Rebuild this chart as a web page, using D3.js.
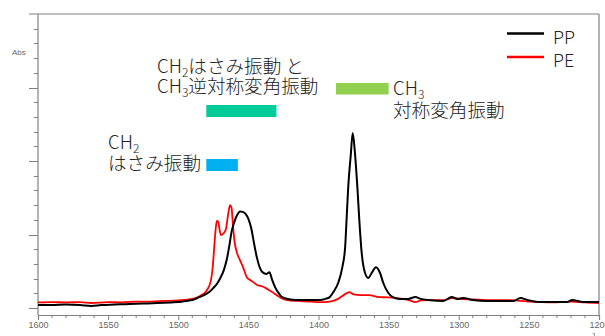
<!DOCTYPE html>
<html>
<head>
<meta charset="utf-8">
<script src="https://cdn.jsdelivr.net/npm/d3@7"></script>
<style>
  html, body { margin: 0; padding: 0; background: #fff; }
  svg { display: block; }
</style>
</head>
<body>
<svg id="chart" width="605" height="336"></svg>
<script>
// IR spectra of PP and PE, 1600–1200 cm-1 (absorbance, arbitrary scale)
const ppWavenumber = [1600,1590,1580,1570,1562,1555,1545,1535,1525,1515,1505,1500,1495,1490,1485,1480,1477,1475,1472,1470,1467.5,1465.5,1463.5,1462,1460,1458,1456,1454,1452,1450,1448,1446,1444,1442,1440,1437,1435,1433,1431,1428,1426,1420,1413,1405,1399,1395,1392,1389.4,1386,1383,1381,1380,1378.8,1377,1375.6,1374,1372.3,1370.9,1369.2,1366.8,1364.5,1362.1,1359,1356.1,1353.8,1350.2,1347,1342,1336,1331,1327,1320,1311,1305,1301,1297,1290,1280,1271,1261,1256,1251,1242,1230,1223,1219,1215,1211,1200];
const ppAbs = [0.010,0.010,0.012,0.010,0.007,0.010,0.012,0.014,0.015,0.017,0.019,0.020,0.024,0.027,0.037,0.048,0.058,0.068,0.085,0.102,0.129,0.163,0.214,0.259,0.293,0.316,0.328,0.327,0.320,0.303,0.272,0.221,0.173,0.139,0.122,0.116,0.122,0.095,0.071,0.048,0.037,0.029,0.027,0.027,0.027,0.031,0.037,0.054,0.085,0.139,0.207,0.299,0.412,0.520,0.595,0.527,0.412,0.299,0.187,0.119,0.102,0.119,0.139,0.119,0.085,0.051,0.037,0.031,0.031,0.037,0.031,0.026,0.024,0.037,0.031,0.034,0.027,0.024,0.024,0.024,0.034,0.027,0.020,0.020,0.020,0.027,0.024,0.020,0.020];

const peWavenumber = [1600,1590,1580,1570,1562,1550,1540,1530,1520,1510,1500,1490,1484.5,1480,1477,1475.5,1474.5,1473.5,1472.5,1471.5,1470.5,1469.5,1467.5,1466,1464.5,1463.1,1462,1461,1460,1458.3,1456,1453.8,1451.2,1448.8,1446.5,1443.8,1440,1437,1433,1429.7,1425.3,1422,1415,1405,1400,1392,1386,1382,1378,1375,1370,1364,1357,1350,1340,1335,1331,1327,1320,1310,1305,1300,1290,1280,1270,1260,1256,1250,1240,1230,1220,1210,1200];
const peAbs = [0.019,0.020,0.019,0.020,0.017,0.020,0.019,0.022,0.022,0.024,0.026,0.031,0.041,0.058,0.088,0.136,0.197,0.259,0.296,0.293,0.265,0.248,0.255,0.269,0.316,0.350,0.340,0.282,0.231,0.190,0.163,0.139,0.105,0.095,0.088,0.078,0.073,0.066,0.054,0.043,0.031,0.027,0.024,0.022,0.020,0.022,0.031,0.044,0.054,0.046,0.044,0.044,0.037,0.036,0.031,0.026,0.020,0.026,0.027,0.027,0.034,0.031,0.029,0.027,0.027,0.026,0.024,0.022,0.020,0.019,0.022,0.019,0.017];

// Absorption band markers (wavenumber ranges)
const bandNames = ["CH2 scissoring", "CH2 scissoring + CH3 asym. deformation", "CH3 sym. deformation"];
const bandStart = [1480, 1480, 1387.5];
const bandEnd = [1457.5, 1430, 1350];
const bandColors = ["#00b0f0", "#00cc99", "#92d050"];

const xTickValues = [1600, 1550, 1500, 1450, 1400, 1350, 1300, 1250, 1200];
const seriesNames = ["PP", "PE"];
const seriesColors = ["#000000", "#ff0000"];

const svg = d3.select("#chart");
const plotLeft = 38, plotRight = 599, plotTop = 14, plotBottom = 308, axisY = 315;

const x = d3.scaleLinear().domain([1600, 1200]).range([plotLeft, plotRight]);
const y = d3.scaleLinear().domain([0, 1]).range([plotBottom, plotTop]);

const axisColor = "#808080";
const labelColor = "#666";

// frame: top and right edges
svg.append("line").attr("x1", 29).attr("x2", plotRight).attr("y1", plotTop).attr("y2", plotTop)
  .attr("stroke", axisColor).attr("stroke-width", 1.2);
svg.append("line").attr("x1", plotRight).attr("x2", plotRight).attr("y1", plotTop).attr("y2", axisY)
  .attr("stroke", axisColor).attr("stroke-width", 1.2);

// left axis with minor/major ticks
svg.append("line").attr("x1", plotLeft).attr("x2", plotLeft).attr("y1", plotTop).attr("y2", axisY)
  .attr("stroke", axisColor).attr("stroke-width", 1.2);
const yTicks = d3.range(0, 20).map(i => i * 0.05);
svg.append("g").selectAll("line").data(yTicks).join("line")
  .attr("x1", d => (Math.round(d * 100) % 25 === 0) ? 29 : 34)
  .attr("x2", plotLeft)
  .attr("y1", d => Math.round(y(d)) + 0.5)
  .attr("y2", d => Math.round(y(d)) + 0.5)
  .attr("stroke", axisColor).attr("stroke-width", 1);

svg.append("text").attr("x", 12).attr("y", 54.5).text("Abs")
  .attr("font-family", "Liberation Sans, Arial, sans-serif").attr("font-size", 8)
  .attr("fill", labelColor);

// bottom axis
const xAxis = d3.axisBottom(x).tickValues(xTickValues).tickSize(5).tickFormat(d3.format("d"));
const gx = svg.append("g").attr("transform", `translate(0,${axisY})`).call(xAxis);
gx.select(".domain").attr("stroke", axisColor).attr("stroke-width", 1.2);
gx.selectAll(".tick line").attr("stroke", axisColor);
gx.selectAll(".tick text").attr("fill", labelColor).attr("font-size", 9)
  .attr("font-family", "Liberation Sans, Arial, sans-serif").attr("dy", "0.55em").attr("y", 8);
const minorTicks = d3.range(1590, 1200, -10).filter(v => v % 50 !== 0);
gx.append("g").selectAll("line").data(minorTicks).join("line")
  .attr("x1", d => x(d)).attr("x2", d => x(d)).attr("y1", 0).attr("y2", 3)
  .attr("stroke", axisColor);
svg.append("text").attr("x", 578).attr("y", 342).attr("fill", labelColor)
  .attr("font-family", "Liberation Sans, Arial, sans-serif").attr("font-size", 9)
  .text("cm").append("tspan").attr("dy", -4).attr("font-size", 7).text("-1");

// band markers
const bandY = [159, 105, 83];
const bandH = [12, 12, 11.5];
svg.append("g").selectAll("rect").data(bandNames).join("rect")
  .attr("x", (d, i) => x(bandStart[i]))
  .attr("width", (d, i) => x(bandEnd[i]) - x(bandStart[i]))
  .attr("y", (d, i) => bandY[i])
  .attr("height", (d, i) => bandH[i])
  .attr("fill", (d, i) => bandColors[i]);

// spectra
const line = d3.line().x(d => x(d[0])).y(d => y(d[1])).curve(d3.curveMonotoneX);
const pe = peWavenumber.map((w, i) => [w, peAbs[i]]);
const pp = ppWavenumber.map((w, i) => [w, ppAbs[i]]);
svg.append("path").datum(pe).attr("d", line).attr("fill", "none")
  .attr("stroke", seriesColors[1]).attr("stroke-width", 1.8).attr("stroke-linejoin", "round");
svg.append("path").datum(pp).attr("d", line).attr("fill", "none")
  .attr("stroke", seriesColors[0]).attr("stroke-width", 2).attr("stroke-linejoin", "round");

// legend
const legendY = [33.5, 57];
const lg = svg.append("g");
seriesNames.forEach((name, i) => {
  lg.append("line").attr("x1", 507).attr("x2", 544).attr("y1", legendY[i]).attr("y2", legendY[i])
    .attr("stroke", seriesColors[i]).attr("stroke-width", 2.5);
  lg.append("text").attr("x", 553).attr("y", legendY[i] + 10).text(name)
    .attr("font-family", "Noto Sans CJK JP, Noto Sans, sans-serif").attr("font-size", 18)
    .attr("font-weight", 300).attr("fill", "#222");
});

// annotation labels
const jp = "Noto Sans CJK JP, sans-serif";
function label(xp, yp, main, sub, rest) {
  const t = svg.append("text").attr("x", xp).attr("y", yp)
    .attr("font-family", jp).attr("font-size", 18.6).attr("font-weight", 300).attr("fill", "#222");
  t.append("tspan").text(main);
  if (sub) t.append("tspan").attr("dy", 4).attr("font-size", 12).text(sub);
  if (rest) t.append("tspan").attr("dy", sub ? -4 : 0).text(rest);
  return t;
}
label(157, 73, "CH", "2", "はさみ振動 と");
label(157, 93, "CH", "3", "逆対称変角振動");
label(393, 95, "CH", "3", null);
label(393, 116.5, "対称変角振動", null, null);
label(108, 149, "CH", "2", null);
label(108, 170, "はさみ振動", null, null);
</script>
</body>
</html>
